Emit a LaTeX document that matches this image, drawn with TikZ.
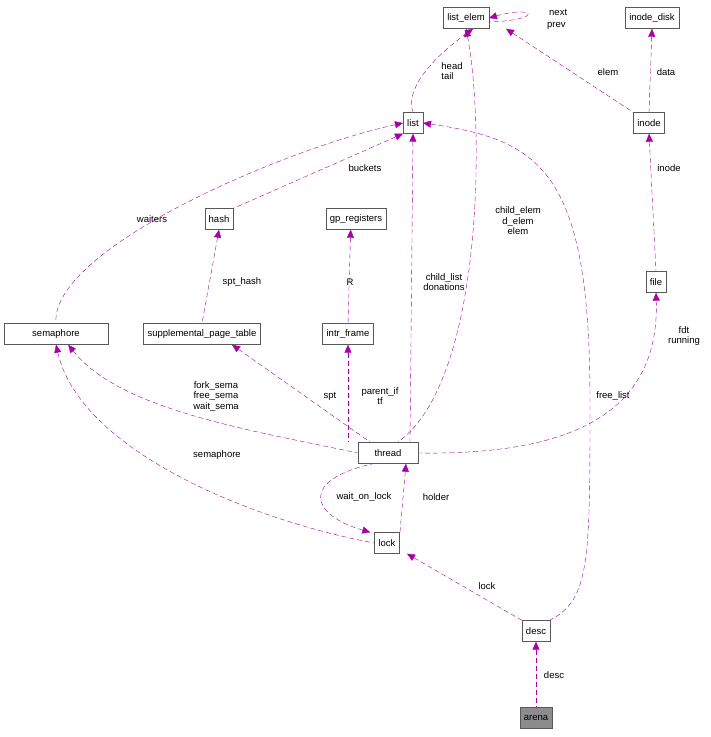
\documentclass[tikz,border=0pt]{standalone}
\usepackage{fontspec}
\setmainfont{Liberation Sans}
\usetikzlibrary{arrows.meta}
\begin{document}
\begin{tikzpicture}[x=1pt,y=-1pt,
 box/.style={draw=black!65,fill=white,minimum height=21pt,inner xsep=4pt,font=\fontsize{9.5}{11}\selectfont},
 e/.style={draw=violet!70!magenta,dashed,dash pattern=on 5pt off 3pt,{Triangle[open,fill=violet!70!magenta,length=8pt,width=7pt]}-},
 lb/.style={font=\fontsize{9.5}{10.5}\selectfont,align=center,inner sep=1pt}]
\useasboundingbox (0,0) rectangle (711,737);
\node[box] (le) at (466,18) {list\_elem};
\node[box] (id) at (652,18) {inode\_disk};
\node[box] (li) at (413,123) {list};
\node[box] (in) at (649,123) {inode};
\node[box] (ha) at (219,219) {hash};
\node[box] (gp) at (356,219) {gp\_registers};
\node[box] (fi) at (656,282) {file};
\node[box,minimum width=104pt] (se) at (56,334) {semaphore};
\node[box] (sp) at (202,334) {supplemental\_page\_table};
\node[box] (ir) at (348,334) {intr\_frame};
\node[box,minimum width=60pt] (th) at (388,453) {thread};
\node[box] (lo) at (387,543) {lock};
\node[box] (de) at (536,631) {desc};
\node[box,fill=black!45] (ar) at (536,718) {arena};
% edges: arrow at first node
\draw[e] (le.east) .. controls (535,5) and (545,20) .. (le.east |- 0,22);
\node[lb,anchor=west] at (548,12) {next};
\node[lb,anchor=west] at (546,26) {prev};
\draw[e] (le.south west) ++(30,0) .. controls (430,60) and (405,90) .. (li.north);
\node[lb,align=left] at (452,71) {head\\tail};
\draw[e] (le.south) ++(40,0) -- (in.north west);
\node[lb] at (608,72) {elem};
\draw[e] (id.south) -- (in.north);
\node[lb] at (666,72) {data};
\draw[e] (in.south) -- (fi.north);
\node[lb] at (669,168) {inode};
\draw[e] (li.south west) -- (ha.north east);
\node[lb] at (365,168) {buckets};
\draw[e] (li.west) .. controls (280,150) and (50,250) .. (se.north);
\node[lb] at (152,219) {waiters};
\draw[e] (li.south) -- (410,442);
\node[lb] at (444,282) {child\_list\\donations};
\draw[e] (le.south) .. controls (484,120) and (485,380) .. (398,442);
\node[lb] at (518,221) {child\_elem\\d\_elem\\elem};
\draw[e] (li.east) .. controls (540,140) and (590,170) .. (590,400) .. controls (590,560) and (590,600) .. (550,620);
\node[lb] at (613,396) {free\_list};
\draw[e] (ha.south) -- (sp.north);
\node[lb] at (242,282) {spt\_hash};
\draw[e] (gp.south west) ++(25,0) -- (ir.north);
\node[lb] at (350,282) {R};
\draw[e] (se.south east) ++(-40,0) .. controls (120,410) and (250,430) .. (th.west);
\node[lb] at (216,396) {fork\_sema\\free\_sema\\wait\_sema};
\draw[e] (sp.south) ++(30,0) -- (370,442);
\node[lb] at (330,396) {spt};
\draw[e] (ir.south) -- (348,442) ;
\node[lb] at (380,396) {parent\_if\\tf};
\draw[e] (fi.south) .. controls (660,420) and (560,455) .. (th.east);
\node[lb] at (684,336) {fdt\\running};
\draw[e] (se.south) .. controls (80,450) and (250,520) .. (lo.west);
\node[lb] at (217,455) {semaphore};
\draw[e] (lo.north west) ++(-4,0) .. controls (310,515) and (300,480) .. (372,464);
\node[lb] at (364,497) {wait\_on\_lock};
\draw[e] (th.south) ++(18,0) -- (400,532);
\node[lb] at (436,497) {holder};
\draw[e] (lo.south) ++(20,0) -- (de.north west);
\node[lb] at (487,586) {lock};
\draw[e] (de.south) -- (ar.north);
\node[lb] at (554,675) {desc};
\end{tikzpicture}
\end{document}
